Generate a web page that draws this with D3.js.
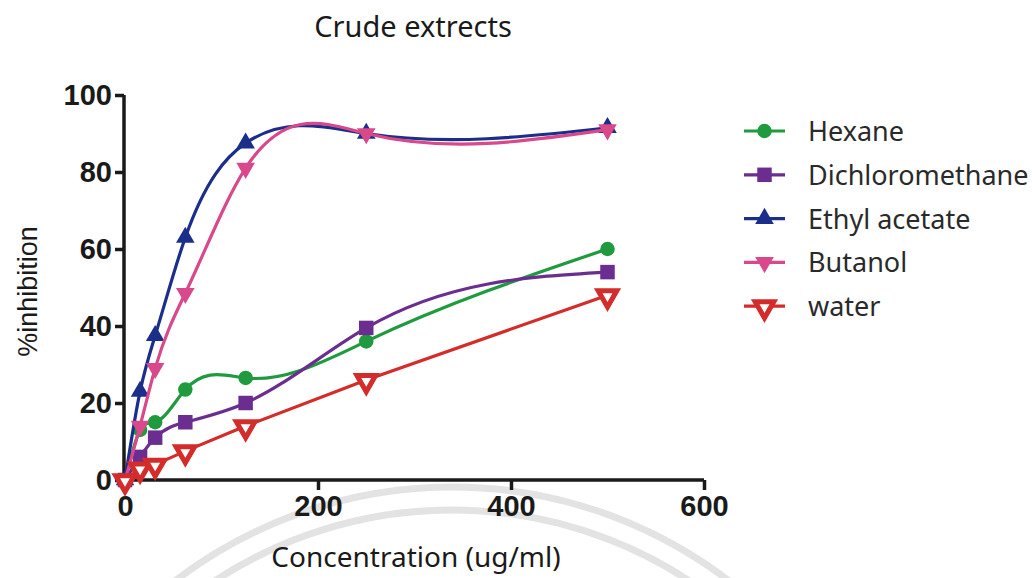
<!DOCTYPE html>
<html>
<head>
<meta charset="utf-8">
<script src="https://cdn.jsdelivr.net/npm/d3@7"></script>
<style>
  body { margin: 0; background: #fff; }
  svg { display: block; }
</style>
</head>
<body>
<svg id="chart" width="1032" height="578"></svg>
<script>
// concentrations (ug/ml), two-fold dilutions
const concentrations = [0, 15.625, 31.25, 62.5, 125, 250, 500];

const hexane = [0, 13, 15, 23.5, 26.5, 36, 60];
const dichloromethane = [0, 6, 11, 15, 20, 39.5, 54];
const ethylAcetate = [0, 23, 37.5, 63, 87.5, 90, 91.5];
const butanol = [0, 14, 29, 48.5, 81, 90, 91];
const water = [0, 3, 4, 7.5, 14, 26, 48];

const seriesNames = ["Hexane", "Dichloromethane", "Ethyl acetate", "Butanol", "water"];
const xTicks = [0, 200, 400, 600];
const yTicks = [0, 20, 40, 60, 80, 100];

// natural cubic spline of y over x (like the prism spline), drawn as bezier pieces
function NaturalX(context) { this._context = context; }
NaturalX.prototype = {
  areaStart() { this._line = 0; },
  areaEnd() { this._line = NaN; },
  lineStart() { this._x = []; this._y = []; },
  point(x, y) { this._x.push(+x); this._y.push(+y); },
  lineEnd() {
    const xs = this._x, ys = this._y, n = xs.length, ctx = this._context;
    if (!n) return;
    ctx.moveTo(xs[0], ys[0]);
    if (n < 3) {
      for (let i = 1; i < n; i++) ctx.lineTo(xs[i], ys[i]);
      return;
    }
    const h = [];
    for (let i = 0; i < n - 1; i++) h.push(xs[i + 1] - xs[i]);
    // tridiagonal solve for second derivatives, natural ends
    const M = new Array(n).fill(0);
    const a = [], b = [], c = [], r = [];
    for (let i = 1; i < n - 1; i++) {
      a.push(h[i - 1]);
      b.push(2 * (h[i - 1] + h[i]));
      c.push(h[i]);
      r.push(6 * ((ys[i + 1] - ys[i]) / h[i] - (ys[i] - ys[i - 1]) / h[i - 1]));
    }
    const m = b.length;
    for (let i = 1; i < m; i++) {
      const w = a[i] / b[i - 1];
      b[i] -= w * c[i - 1];
      r[i] -= w * r[i - 1];
    }
    M[m] = r[m - 1] / b[m - 1];
    for (let i = m - 2; i >= 0; i--) M[i + 1] = (r[i] - c[i] * M[i + 2]) / b[i];
    for (let i = 0; i < n - 1; i++) {
      const hi = h[i], s = (ys[i + 1] - ys[i]) / hi;
      const d0 = s - hi * (2 * M[i] + M[i + 1]) / 6;
      const d1 = s + hi * (M[i] + 2 * M[i + 1]) / 6;
      ctx.bezierCurveTo(xs[i] + hi / 3, ys[i] + d0 * hi / 3,
                        xs[i + 1] - hi / 3, ys[i + 1] - d1 * hi / 3,
                        xs[i + 1], ys[i + 1]);
    }
  }
};
const curveNaturalX = ctx => new NaturalX(ctx);

const series = [
  { name: seriesNames[0], values: hexane, color: "#1f9a3e", symbol: "circle", curve: curveNaturalX },
  { name: seriesNames[1], values: dichloromethane, color: "#6b2d8f", symbol: "square", curve: curveNaturalX },
  { name: seriesNames[2], values: ethylAcetate, color: "#1b2e8a", symbol: "triangle", curve: curveNaturalX },
  { name: seriesNames[3], values: butanol, color: "#d8488a", symbol: "triangleDown", curve: curveNaturalX },
  { name: seriesNames[4], values: water, color: "#d42b2b", symbol: "triangleOpen", curve: d3.curveLinear }
];

const svg = d3.select("#chart");
svg.append("rect").attr("width", 1032).attr("height", 578).attr("fill", "#fff");

// faint watermark arcs behind everything
const wm = svg.append("g").attr("fill", "none").attr("stroke", "#e3e3e3").attr("stroke-width", 7);
[455, 432].forEach(r => {
  wm.append("circle").attr("cx", 452).attr("cy", 942).attr("r", r);
});

const x = d3.scaleLinear().domain([0, 600]).range([125, 704]);
const y = d3.scaleLinear().domain([0, 100]).range([480, 95]);

// title
svg.append("text")
  .attr("x", 413).attr("y", 37)
  .attr("text-anchor", "middle")
  .attr("font-family", "'Noto Sans', sans-serif")
  .attr("font-size", 29)
  .attr("fill", "#1a1a1a")
  .text("Crude extrects");

// axes
const yAxis = svg.append("g")
  .attr("transform", `translate(${x(0) - 1},0)`)
  .call(d3.axisLeft(y).tickValues(yTicks).tickSize(9).tickSizeOuter(0).tickPadding(3));

const xAxis = svg.append("g")
  .attr("transform", `translate(0,${y(0)})`)
  .call(d3.axisBottom(x).tickValues(xTicks).tickSize(10).tickSizeOuter(0).tickPadding(5));

[xAxis, yAxis].forEach(g => {
  g.select(".domain").attr("stroke", "#1a1a1a").attr("stroke-width", 3.5);
  g.selectAll(".tick line").attr("stroke", "#1a1a1a").attr("stroke-width", 3.5);
  g.selectAll(".tick text")
    .attr("font-family", "'Liberation Sans', Arial, sans-serif")
    .attr("font-weight", "bold")
    .attr("font-size", 29)
    .attr("fill", "#1a1a1a");
});
xAxis.select(".domain").attr("d", `M${x(0) - 2.5},0H${x(600)}`);
yAxis.select(".domain").attr("d", `M0,${y(100)}V${y(0)}`);

// axis titles
svg.append("text")
  .attr("transform", `translate(37,${y(50) + 4}) rotate(-90)`)
  .attr("text-anchor", "middle")
  .attr("font-family", "'Liberation Sans', Arial, sans-serif")
  .attr("font-size", 27)
  .attr("fill", "#1a1a1a")
  .text("%inhibition");

svg.append("text")
  .attr("x", 416).attr("y", 567)
  .attr("text-anchor", "middle")
  .attr("font-family", "'Noto Sans', sans-serif")
  .attr("font-size", 28)
  .attr("fill", "#1a1a1a")
  .text("Concentration (ug/ml)");

function drawMarker(g, s, cx, cy) {
  if (s.symbol === "circle") {
    g.append("path").attr("d", d3.symbol(d3.symbolCircle, 165)())
      .attr("transform", `translate(${cx},${cy})`).attr("fill", s.color);
  } else if (s.symbol === "square") {
    g.append("path").attr("d", d3.symbol(d3.symbolSquare, 210)())
      .attr("transform", `translate(${cx},${cy})`).attr("fill", s.color);
  } else if (s.symbol === "triangle") {
    g.append("path").attr("d", d3.symbol(d3.symbolTriangle, 150)())
      .attr("transform", `translate(${cx},${cy})`).attr("fill", s.color);
  } else if (s.symbol === "triangleDown") {
    g.append("path").attr("d", d3.symbol(d3.symbolTriangle, 150)())
      .attr("transform", `translate(${cx},${cy}) rotate(180)`).attr("fill", s.color);
  } else {
    g.append("path").attr("d", d3.symbol(d3.symbolTriangle, 150)())
      .attr("transform", `translate(${cx},${cy + 1}) rotate(180)`)
      .attr("fill", "#fff").attr("stroke", s.color).attr("stroke-width", 5)
      .attr("stroke-linejoin", "miter");
  }
}

// series
const plot = svg.append("g");
series.forEach(s => {
  const pts = concentrations.map((c, i) => [c, s.values[i]]);
  const line = d3.line().x(d => x(d[0])).y(d => y(d[1])).curve(s.curve);
  const g = plot.append("g");
  g.append("path")
    .attr("d", line(pts))
    .attr("fill", "none")
    .attr("stroke", s.color)
    .attr("stroke-width", 3.2);
  pts.forEach(p => drawMarker(g, s, x(p[0]), y(p[1])));
});

// legend
const legend = svg.append("g");
series.forEach((s, i) => {
  const ly = 131 + i * 43.8;
  const g = legend.append("g");
  g.append("line")
    .attr("x1", 744).attr("x2", 785).attr("y1", ly).attr("y2", ly)
    .attr("stroke", s.color).attr("stroke-width", 3.2);
  drawMarker(g, s, 764.5, ly);
  g.append("text")
    .attr("x", 808).attr("y", ly + 10)
    .attr("font-family", "'Noto Sans', sans-serif")
    .attr("font-size", 27)
    .attr("fill", "#2a2a2a")
    .text(s.name);
});
</script>
</body>
</html>
